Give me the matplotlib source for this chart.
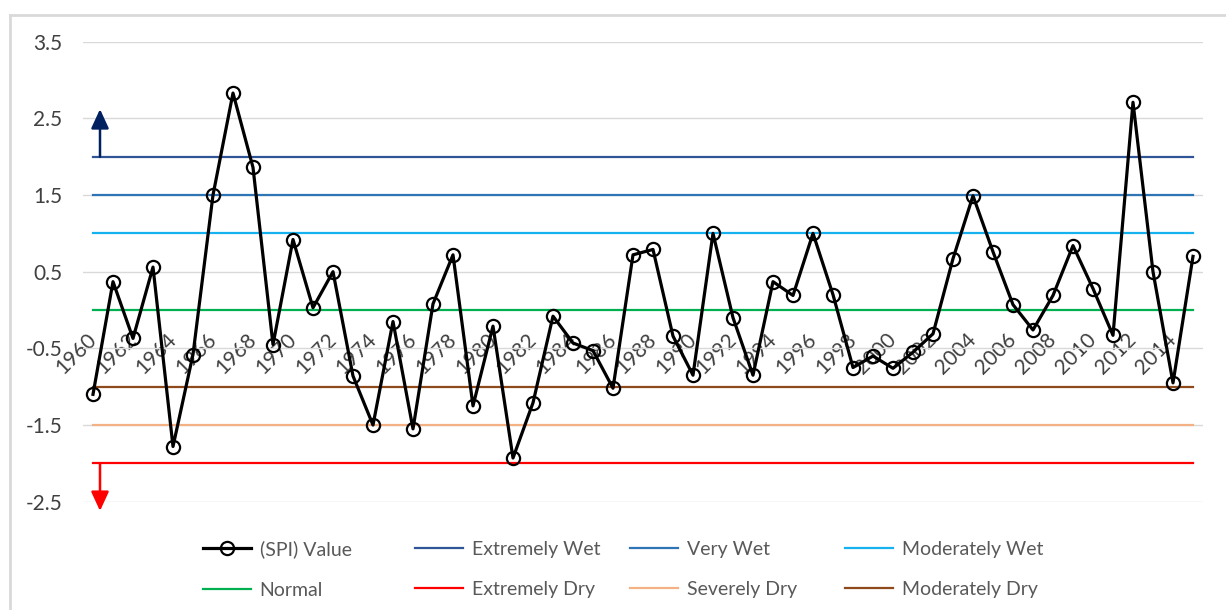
import numpy as np
import matplotlib
matplotlib.use('Agg')
import matplotlib.pyplot as plt

plt.rcParams['font.family'] = ['Lato', 'DejaVu Sans']

years = list(range(1960, 2016))
spi = [-1.10, 0.37, -0.37, 0.56, -1.78, -0.58, 1.50, 2.83, 1.86, -0.45,
       0.92, 0.03, 0.50, -0.86, -1.50, -0.15, -1.55, 0.08, 0.72, -1.25,
       -0.21, -1.93, -1.21, -0.08, -0.43, -0.53, -1.02, 0.72, 0.79, -0.34,
       -0.85, 1.00, -0.10, -0.85, 0.37, 0.19, 1.00, 0.20, -0.75, -0.60,
       -0.76, -0.55, -0.31, 0.67, 1.49, 0.76, 0.07, -0.26, 0.19, 0.84,
       0.28, -0.33, 2.71, 0.50, -0.95, 0.70]

class_names = ['Extremely Wet', 'Very Wet', 'Moderately Wet', 'Normal',
               'Extremely Dry', 'Severely Dry', 'Moderately Dry']
class_levels = [2.0, 1.5, 1.0, 0.0, -2.0, -1.5, -1.0]
class_colors = ['#2F5597', '#2E75B6', '#16B2F0', '#00B050',
                '#FF0000', '#F4B183', '#8F4A1B']

year_labels = [str(y) for y in range(1960, 2015, 2)]

fig = plt.figure(figsize=(12.26, 6.10), dpi=100)
ax = fig.add_axes([83 / 1226, 1 - 501.7 / 610, 1120 / 1226, 460 / 610])

# chart area border (left and top only visible)
fig.add_artist(plt.Line2D([10 / 1226, 10 / 1226], [0, 1 - 15 / 610],
                          transform=fig.transFigure, color='#D9D9D9', lw=2))
fig.add_artist(plt.Line2D([10 / 1226, 1], [1 - 15 / 610, 1 - 15 / 610],
                          transform=fig.transFigure, color='#D9D9D9', lw=2))

ax.spines['bottom'].set_position(('data', 0))
for s in ['top', 'right', 'left', 'bottom']:
    ax.spines[s].set_visible(False)

handles = {}
h, = ax.plot(years, spi, color='black', lw=2.3, marker='o', ms=9.5,
             mfc='none', mec='black', mew=1.6, zorder=5, label='(SPI) Value')
handles['(SPI) Value'] = h
for name, lvl, col in zip(class_names, class_levels, class_colors):
    h, = ax.plot([years[0], years[-1]], [lvl, lvl], color=col, lw=1.6,
                 zorder=3, label=name)
    handles[name] = h

# arrows
astyle = '-|>,head_length=0.65,head_width=0.3'
ax.annotate('', xy=(1960.35, 2.62), xytext=(1960.35, 2.0),
            annotation_clip=False,
            arrowprops=dict(arrowstyle=astyle, color='#002060', lw=1.8,
                            mutation_scale=18, shrinkA=0, shrinkB=0))
ax.annotate('', xy=(1960.35, -2.62), xytext=(1960.35, -2.0),
            annotation_clip=False,
            arrowprops=dict(arrowstyle=astyle, color='#FF0000', lw=1.8,
                            mutation_scale=18, shrinkA=0, shrinkB=0))

ax.set_xlim(1959.5, 2015.5)
ax.set_ylim(-2.5, 3.5)
ax.set_yticks(np.arange(-2.5, 3.6, 1.0))
ax.set_yticklabels(['-2.5', '-1.5', '-0.5', '0.5', '1.5', '2.5', '3.5'])
ax.yaxis.grid(True, color='#D9D9D9', lw=1)
ax.set_axisbelow(True)

ax.set_xticks(range(1960, 2015, 2))
ax.set_xticklabels(year_labels)
ax.tick_params(axis='x', length=0, pad=19, labelsize=15, colors='#404040')
ax.tick_params(axis='y', length=0, pad=15, labelsize=15, colors='#404040')
for t in ax.get_xticklabels():
    t.set_rotation(45)
    t.set_ha('right')
    t.set_va('center')
    t.set_rotation_mode('anchor')

# legend: 4 fixed-width columns like the Excel layout
columns = [['(SPI) Value', 'Normal'], ['Extremely Wet', 'Extremely Dry'],
           ['Very Wet', 'Severely Dry'], ['Moderately Wet', 'Moderately Dry']]
col_x = [197, 409, 624, 839]
for names, x0 in zip(columns, col_x):
    leg = fig.legend([handles[k] for k in names], names, ncol=1,
                     loc='center left', bbox_to_anchor=(x0 / 1226 - 0.0075, 0.0664),
                     frameon=False, fontsize=14, handlelength=2.45,
                     handletextpad=0.45, labelspacing=1.2, borderpad=0.3)
    for t in leg.get_texts():
        t.set_color('#595959')

fig.savefig('out.png', dpi=100)
